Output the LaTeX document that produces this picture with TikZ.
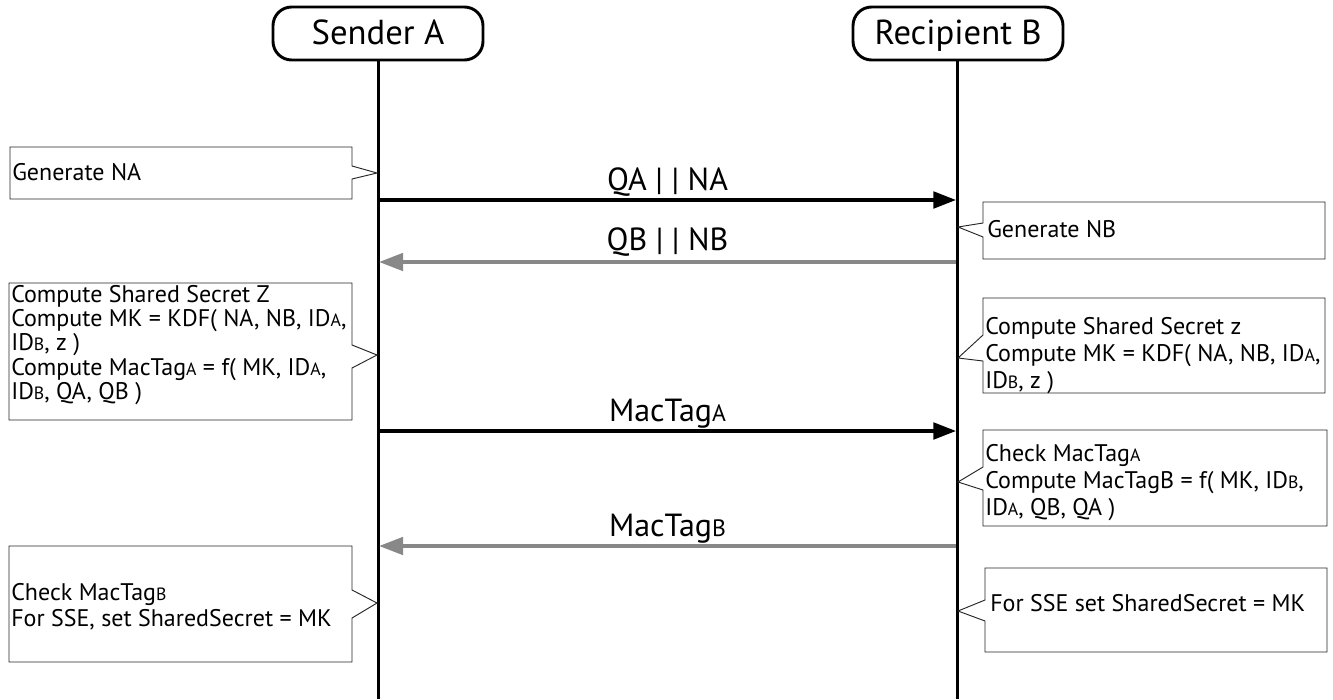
\documentclass[tikz,border=0pt]{standalone}
\usepackage{fontspec}
\setmainfont{PT Sans}
\usetikzlibrary{arrows.meta}
\definecolor{msggray}{HTML}{888888}
\newcommand\lo[1]{\scalebox{0.74}{#1}}
\begin{document}
\begin{tikzpicture}[x=0.75pt,y=-0.75pt,
  actor/.style={draw, line width=2.2pt, rounded corners=14pt, minimum width=157.5pt,
    minimum height=39.75pt, inner sep=0pt},
  actortext/.style={font=\fontsize{26}{30}\selectfont, anchor=base, inner sep=0pt},
  life/.style={line width=2.25pt},
  msgA/.style={line width=2.4pt, -{Triangle[length=17pt,width=12.5pt]}},
  msgB/.style={line width=2.7pt, draw=msggray, -{Triangle[length=18pt,width=13pt]}},
  lbl/.style={font=\fontsize{24}{28}\selectfont, anchor=base, inner sep=0pt},
  cbox/.style={draw=black!85, line width=0.7pt},
  ctext/.style={font=\fontsize{18}{20}\selectfont, align=left, anchor=base west, inner sep=0pt}
]
\useasboundingbox (0,0) rectangle (1333,699);

% actors
\node[actor] (A) at (378,33.5) {};
\node[actor] (B) at (958,33.5) {};
\node[actortext] (At) at (378,45) {Sender A};
\node[actortext] (Bt) at (958,45) {Recipient B};

% lifelines
\coordinate (Aend) at (378,699);
\coordinate (Bend) at (957,699);
\draw[life] (A.south) -- (Aend);
\draw[life] (B.south -| Bend) -- (Bend);

% message coordinates
\coordinate (a1) at (379,200); \coordinate (b1) at (956,200);
\coordinate (a2) at (379,262); \coordinate (b2) at (956,262);
\coordinate (a3) at (379,431); \coordinate (b3) at (956,431);
\coordinate (a4) at (379,546); \coordinate (b4) at (956,546);

\draw[msgA] (a1) -- (b1);
\draw[msgB] (b2) -- (a2);
\draw[msgA] (a3) -- (b3);
\draw[msgB] (b4) -- (a4);

\node[lbl] (l1) at (667.5,190.7) {QA | | NA};
\node[lbl] (l2) at (667.5,250.7) {QB | | NB};
\node[lbl] (l3) at (667.5,421.7) {MacTag\lo{A}};
\node[lbl] (l4) at (667.5,536.7) {MacTag\lo{B}};

% callouts left
\draw[cbox] (10,147) -- (352,147) -- (352,166) -- (377,173) -- (352,179) -- (352,199) -- (10,199) -- cycle;
\node[ctext] (c1) at (12,180) {Generate NA};

\draw[cbox] (9,283) -- (352,283) -- (352,345) -- (377,355) -- (352,368) -- (352,420) -- (9,420) -- cycle;
\node[ctext, font=\fontsize{18}{18.2}\selectfont] (c3) at (11,399.5) {Compute Shared Secret Z\\
Compute MK = KDF( NA, NB, ID\lo{A},\\
ID\lo{B}, z )\\
Compute MacTag\lo{A} = f( MK, ID\lo{A},\\
ID\lo{B}, QA, QB )};

\draw[cbox] (9,546) -- (352,546) -- (352,590) -- (377,603) -- (352,618) -- (352,662) -- (9,662) -- cycle;
\node[ctext] (c6) at (11,626.7) {Check MacTag\lo{B}\\
For SSE, set SharedSecret = MK};

% callouts right
\draw[cbox] (983,202) -- (1325,202) -- (1325,259) -- (983,259) -- (983,237) -- (958,227) -- (983,223) -- cycle;
\node[ctext] (c2) at (987,237) {Generate NB};

\draw[cbox] (983,298) -- (1325,298) -- (1325,393) -- (983,393) -- (983,361) -- (958,358) -- (983,335) -- cycle;
\node[ctext] (c4) at (985,388.3) {Compute Shared Secret z\\
Compute MK = KDF( NA, NB, ID\lo{A},\\
ID\lo{B}, z )};

\draw[cbox] (983,430) -- (1327,430) -- (1327,526) -- (983,526) -- (983,490) -- (958,482) -- (983,467) -- cycle;
\node[ctext] (c5) at (985,515) {Check MacTag\lo{A}\\
Compute MacTagB = f( MK, ID\lo{B},\\
ID\lo{A}, QB, QA )};

\draw[cbox] (985,568) -- (1327,568) -- (1327,652) -- (985,652) -- (985,621) -- (958,611) -- (985,600) -- cycle;
\node[ctext] (c7) at (990,611.7) {For SSE set SharedSecret = MK};
\end{tikzpicture}
\end{document}
